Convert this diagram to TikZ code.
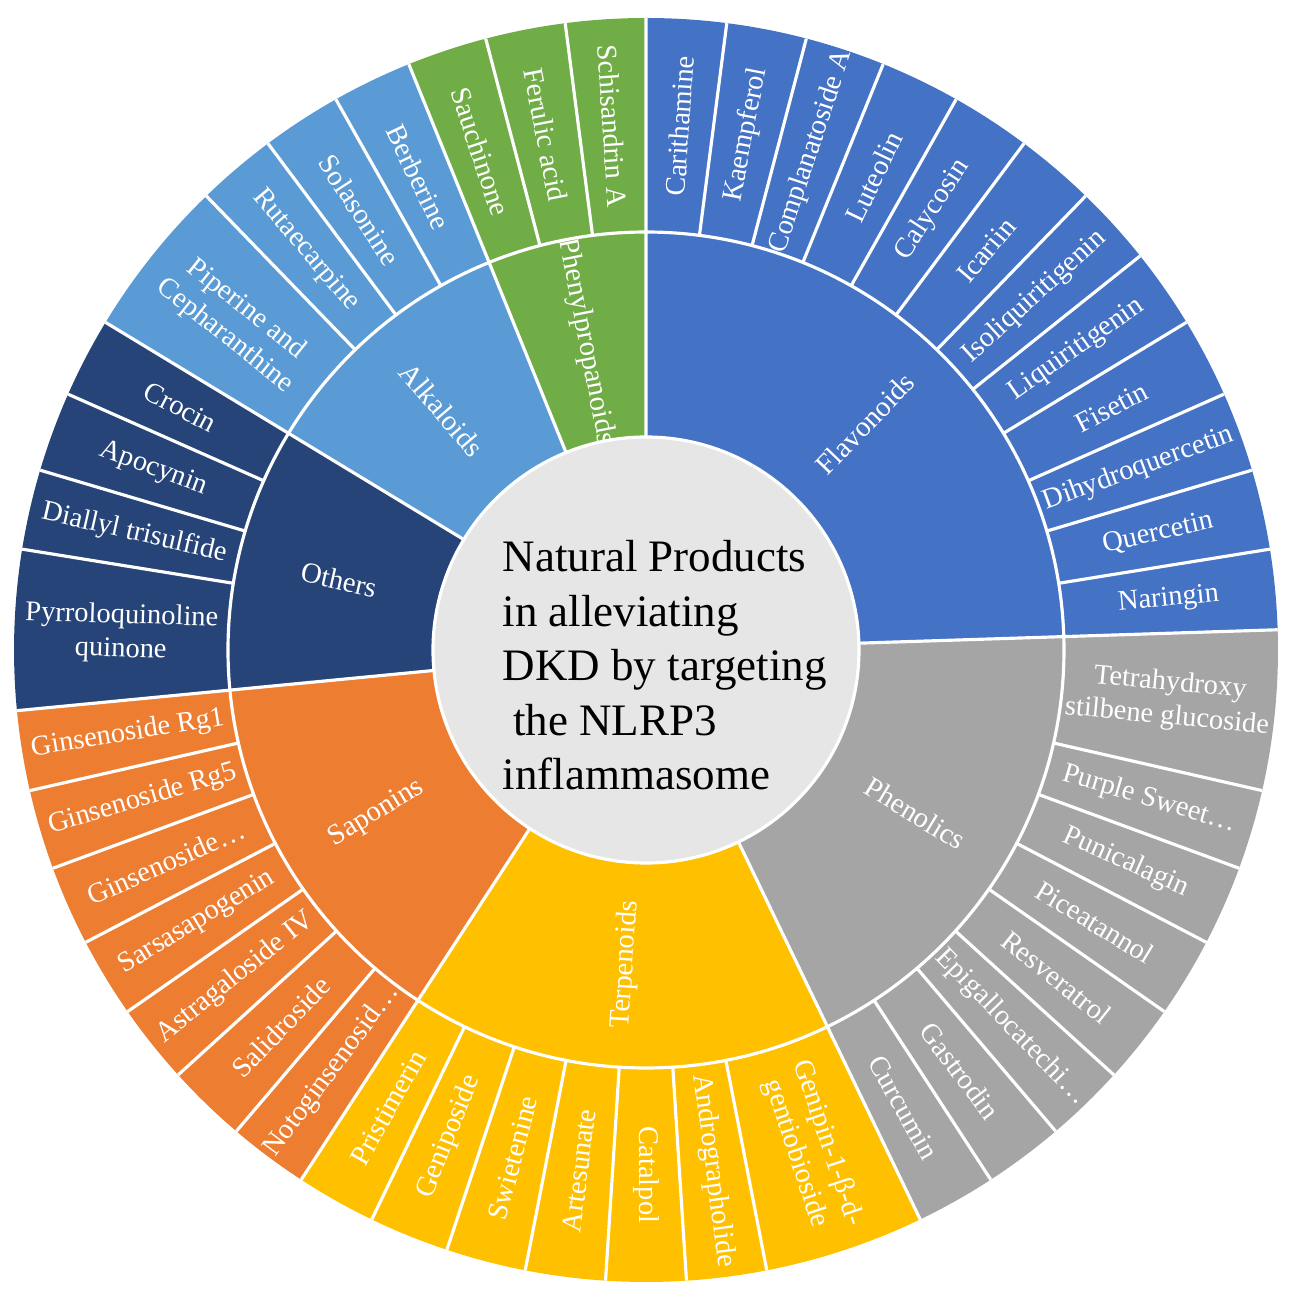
\documentclass[tikz,border=0pt]{standalone}
\usepackage{fontspec}
\setmainfont{Liberation Serif}
\usepackage{tikz}
\definecolor{flavblue}{HTML}{4472C4}
\definecolor{phengray}{HTML}{A5A5A5}
\definecolor{terpyellow}{HTML}{FFC000}
\definecolor{saporange}{HTML}{ED7D31}
\definecolor{othnavy}{HTML}{264478}
\definecolor{alkblue}{HTML}{5B9BD5}
\definecolor{propgreen}{HTML}{70AD47}
\definecolor{centergray}{HTML}{E7E6E6}
\tikzset{
  sep/.style={draw=white, line width=0.9pt},
  leaf/.style={text=white, align=center, inner sep=0pt, font=\fontsize{8.1}{9.6}\selectfont},
  group/.style={text=white, align=center, inner sep=0pt, font=\fontsize{8.2}{10}\selectfont}
}
\begin{document}
\begin{tikzpicture}
\useasboundingbox (-6.46,-6.49) rectangle (6.53,6.50);

\fill[flavblue] (0,0) -- (90:6.32) arc[start angle=90, end angle=1.837, radius=6.32] -- cycle;
\fill[phengray] (0,0) -- (1.837:6.32) arc[start angle=1.837, end angle=-64.286, radius=6.32] -- cycle;
\fill[terpyellow] (0,0) -- (-64.286:6.32) arc[start angle=-64.286, end angle=-123.061, radius=6.32] -- cycle;
\fill[saporange] (0,0) -- (-123.061:6.32) arc[start angle=-123.061, end angle=-174.490, radius=6.32] -- cycle;
\fill[othnavy] (0,0) -- (-174.490:6.32) arc[start angle=-174.490, end angle=-211.224, radius=6.32] -- cycle;
\fill[alkblue] (0,0) -- (-211.224:6.32) arc[start angle=-211.224, end angle=-247.959, radius=6.32] -- cycle;
\fill[propgreen] (0,0) -- (-247.959:6.32) arc[start angle=-247.959, end angle=-270, radius=6.32] -- cycle;

\draw[sep] (0,0)--(90:6.32) (0,0)--(1.837:6.32) (0,0)--(-64.286:6.32) (0,0)--(-123.061:6.32)
  (0,0)--(-174.490:6.32) (0,0)--(-211.224:6.32) (0,0)--(-247.959:6.32);
\draw[sep] (82.653:4.18)--(82.653:6.32) (75.306:4.18)--(75.306:6.32) (67.959:4.18)--(67.959:6.32)
  (60.612:4.18)--(60.612:6.32) (53.265:4.18)--(53.265:6.32) (45.918:4.18)--(45.918:6.32)
  (38.571:4.18)--(38.571:6.32) (31.224:4.18)--(31.224:6.32) (23.878:4.18)--(23.878:6.32)
  (16.531:4.18)--(16.531:6.32) (9.184:4.18)--(9.184:6.32);
\draw[sep] (-12.857:4.18)--(-12.857:6.32) (-20.204:4.18)--(-20.204:6.32) (-27.551:4.18)--(-27.551:6.32)
  (-34.898:4.18)--(-34.898:6.32) (-42.245:4.18)--(-42.245:6.32) (-49.592:4.18)--(-49.592:6.32)
  (-56.939:4.18)--(-56.939:6.32);
\draw[sep] (-78.980:4.18)--(-78.980:6.32) (-86.327:4.18)--(-86.327:6.32) (-93.673:4.18)--(-93.673:6.32)
  (-101.020:4.18)--(-101.020:6.32) (-108.367:4.18)--(-108.367:6.32) (-115.714:4.18)--(-115.714:6.32);
\draw[sep] (-130.408:4.18)--(-130.408:6.32) (-137.755:4.18)--(-137.755:6.32) (-145.102:4.18)--(-145.102:6.32)
  (-152.449:4.18)--(-152.449:6.32) (-159.796:4.18)--(-159.796:6.32) (-167.143:4.18)--(-167.143:6.32);
\draw[sep] (-189.184:4.18)--(-189.184:6.32) (-196.531:4.18)--(-196.531:6.32) (-203.878:4.18)--(-203.878:6.32);
\draw[sep] (-225.918:4.18)--(-225.918:6.32) (-233.265:4.18)--(-233.265:6.32) (-240.612:4.18)--(-240.612:6.32);
\draw[sep] (-255.306:4.18)--(-255.306:6.32) (-262.653:4.18)--(-262.653:6.32);
\draw[sep] (0,0) circle[radius=4.18];
\filldraw[fill=centergray, draw=white, line width=0.9pt] (0,0) circle[radius=2.13];

\node(title)[anchor=west, align=left, inner sep=0pt, font=\fontsize{12.8}{15.5}\selectfont] at (-1.44,-0.155)
  {Natural Products\\in alleviating\\DKD by targeting\\\hspace*{3pt}the NLRP3\\inflammasome};

\node(flavonoids)[group, rotate=45.918] at (45.918:3.15) {Flavonoids};
\node(phenolics)[group, rotate=-31.224] at (-31.224:3.15) {Phenolics};
\node(terpenoids)[group, rotate=86.327] at (-93.673:3.15) {Terpenoids};
\node(saponins)[group, rotate=31.224] at (-148.776:3.15) {Saponins};
\node(others)[group, rotate=-12.857] at (-192.857:3.15) {Others};
\node(alkaloids)[group, rotate=-49.592] at (-229.592:3.15) {Alkaloids};
\node(phenylpropanoids)[group, rotate=-78.980] at (-258.980:3.14) {Phenylpropanoids};

\node(carithamine)[leaf, rotate=86.327] at (86.327:5.25) {Carithamine};
\node(kaempferol)[leaf, rotate=78.980] at (78.980:5.25) {Kaempferol};
\node(complanatoside)[leaf, rotate=71.633] at (71.633:5.25) {Complanatoside A};
\node(luteolin)[leaf, rotate=64.286] at (64.286:5.25) {Luteolin};
\node(calycosin)[leaf, rotate=56.939] at (56.939:5.25) {Calycosin};
\node(icariin)[leaf, rotate=49.592] at (49.592:5.25) {Icariin};
\node(isoliquiritigenin)[leaf, rotate=42.245] at (42.245:5.25) {Isoliquiritigenin};
\node(liquiritigenin)[leaf, rotate=34.898] at (34.898:5.25) {Liquiritigenin};
\node(fisetin)[leaf, rotate=27.551] at (27.551:5.25) {Fisetin};
\node(dihydroquercetin)[leaf, rotate=20.204] at (20.204:5.25) {Dihydroquercetin};
\node(quercetin)[leaf, rotate=12.857] at (12.857:5.25) {Quercetin};
\node(naringin)[leaf, rotate=5.510] at (5.510:5.25) {Naringin};

\node(tetrahydroxy)[leaf, rotate=-5.510] at (-5.510:5.25) {Tetrahydroxy\\stilbene glucoside};
\node(purplesweet)[leaf, rotate=-16.531] at (-16.531:5.25) {Purple Sweet…};
\node(punicalagin)[leaf, rotate=-23.878] at (-23.878:5.25) {Punicalagin};
\node(piceatannol)[leaf, rotate=-31.224] at (-31.224:5.25) {Piceatannol};
\node(resveratrol)[leaf, rotate=-38.571] at (-38.571:5.25) {Resveratrol};
\node(epigallocatechin)[leaf, rotate=-45.918] at (-45.918:5.25) {Epigallocatechi…};
\node(gastrodin)[leaf, rotate=-53.265] at (-53.265:5.25) {Gastrodin};
\node(curcumin)[leaf, rotate=-60.612] at (-60.612:5.25) {Curcumin};

\node(genipin)[leaf, rotate=-71.633] at (-71.633:5.25) {Genipin-1-β-d-\\gentiobioside};
\node(andrographolide)[leaf, rotate=-82.653] at (-82.653:5.25) {Andrographolide};
\node(catalpol)[leaf, rotate=-90] at (-90:5.25) {Catalpol};
\node(artesunate)[leaf, rotate=82.653] at (-97.347:5.25) {Artesunate};
\node(swietenine)[leaf, rotate=75.306] at (-104.694:5.25) {Swietenine};
\node(geniposide)[leaf, rotate=67.959] at (-112.041:5.25) {Geniposide};
\node(pristimerin)[leaf, rotate=60.612] at (-119.388:5.25) {Pristimerin};

\node(notoginsenoside)[leaf, rotate=53.265] at (-126.735:5.25) {Notoginsenosid…};
\node(salidroside)[leaf, rotate=45.918] at (-134.082:5.25) {Salidroside};
\node(astragaloside)[leaf, rotate=38.571] at (-141.429:5.25) {Astragaloside IV};
\node(sarsasapogenin)[leaf, rotate=31.224] at (-148.776:5.25) {Sarsasapogenin};
\node(ginsenoside)[leaf, rotate=23.878] at (-156.122:5.25) {Ginsenoside…};
\node(ginsenosiderg5)[leaf, rotate=16.531] at (-163.469:5.25) {Ginsenoside Rg5};
\node(ginsenosiderg1)[leaf, rotate=9.184] at (-170.816:5.25) {Ginsenoside Rg1};

\node(pyrroloquinoline)[leaf, rotate=-1.837] at (-181.837:5.25) {Pyrroloquinoline\\quinone};
\node(diallyl)[leaf, rotate=-12.857] at (-192.857:5.25) {Diallyl trisulfide};
\node(apocynin)[leaf, rotate=-20.204] at (-200.204:5.25) {Apocynin};
\node(crocin)[leaf, rotate=-27.551] at (-207.551:5.25) {Crocin};

\node(piperine)[leaf, rotate=-38.571] at (-218.571:5.25) {Piperine and\\Cepharanthine};
\node(rutaecarpine)[leaf, rotate=-49.592] at (-229.592:5.25) {Rutaecarpine};
\node(solasonine)[leaf, rotate=-56.939] at (-236.939:5.25) {Solasonine};
\node(berberine)[leaf, rotate=-64.286] at (-244.286:5.25) {Berberine};

\node(sauchinone)[leaf, rotate=-71.633] at (-251.633:5.25) {Sauchinone};
\node(ferulic)[leaf, rotate=-78.980] at (-258.980:5.25) {Ferulic acid};
\node(schisandrin)[leaf, rotate=-86.327] at (-266.327:5.25) {Schisandrin A};
\end{tikzpicture}
\end{document}
